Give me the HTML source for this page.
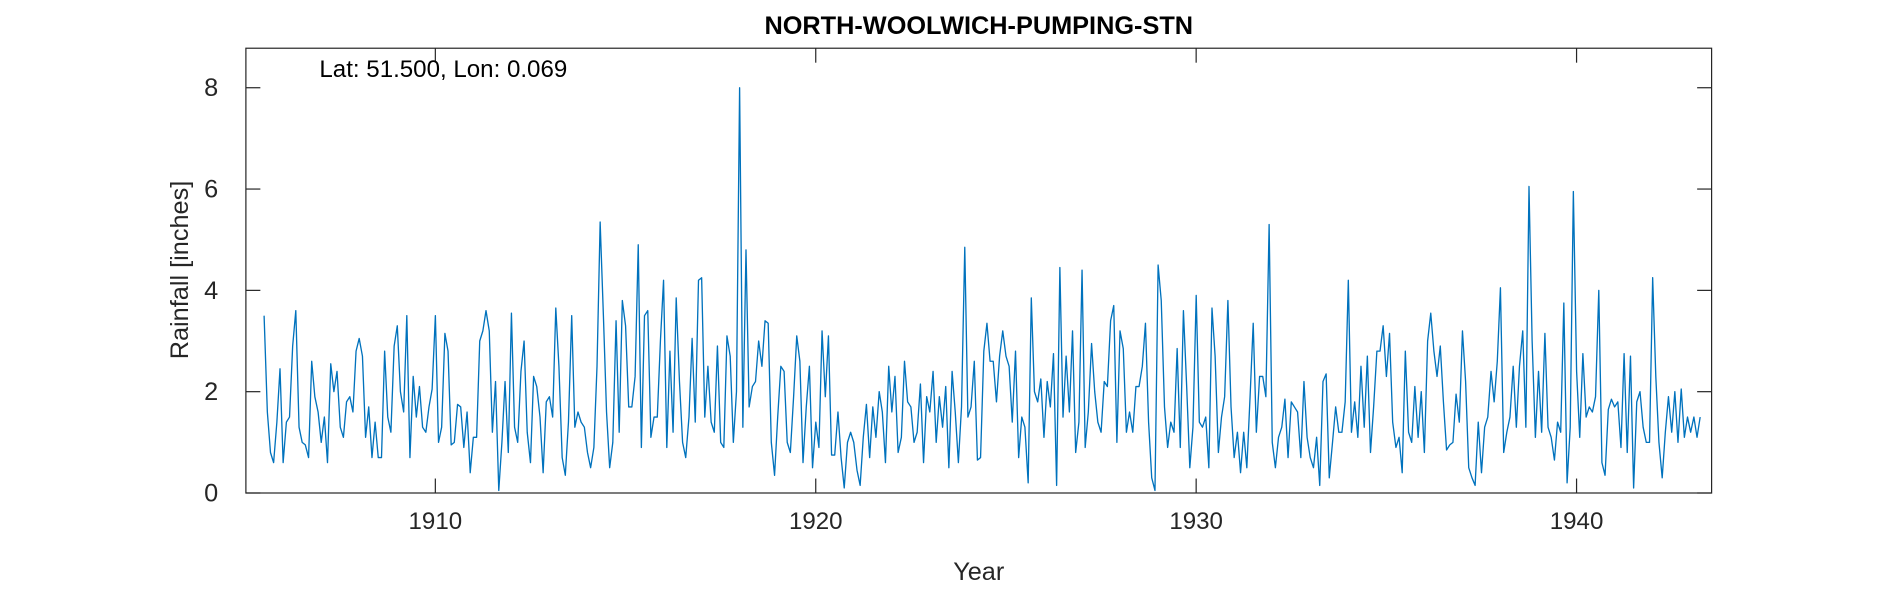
<!DOCTYPE html>
<html><head><meta charset="utf-8">
<style>
html,body{margin:0;padding:0;background:#fff;overflow:hidden;}
svg{display:block;font-family:"Liberation Sans",sans-serif;}
</style></head>
<body>
<svg id="chart" width="1890" height="591" viewBox="0 0 1568 490.3" xmlns="http://www.w3.org/2000/svg">
<rect width="1568" height="491" fill="#fff"/>
<text x="812" y="28" text-anchor="middle" font-size="21" font-weight="bold" fill="#000">NORTH-WOOLWICH-PUMPING-STN</text>
<g id="plot"></g>
<text x="265" y="64" font-size="20" fill="#000">Lat: 51.500, Lon: 0.069</text>
<text x="812" y="481" text-anchor="middle" font-size="21" fill="#262626">Year</text>
<text transform="translate(156,224) rotate(-90)" text-anchor="middle" font-size="21" fill="#262626">Rainfall [inches]</text>
</svg>
<script>
const startYear = 1905.5;
const rainfall = [
3.5,1.6,0.8,0.6,1.4,2.45,
0.6,1.4,1.5,2.9,3.6,1.3,1.0,0.95,0.7,2.6,1.9,1.6,
1.0,1.5,0.6,2.55,2.0,2.4,1.3,1.1,1.8,1.9,1.6,2.8,
3.05,2.7,1.1,1.7,0.7,1.4,0.7,0.7,2.8,1.5,1.2,2.9,
3.3,2.0,1.6,3.5,0.7,2.3,1.5,2.1,1.3,1.2,1.7,2.05,
3.5,1.0,1.3,3.15,2.8,0.95,1.0,1.75,1.7,0.9,1.6,0.4,
1.1,1.1,3.0,3.2,3.6,3.2,1.2,2.2,0.05,1.0,2.2,0.8,
3.55,1.3,1.0,2.4,3.0,1.2,0.6,2.3,2.1,1.5,0.4,1.8,
1.9,1.5,3.65,2.5,0.7,0.35,1.4,3.5,1.3,1.6,1.4,1.3,
0.8,0.5,0.9,2.5,5.35,3.5,1.6,0.5,1.0,3.4,1.2,3.8,
3.3,1.7,1.7,2.3,4.9,0.9,3.5,3.6,1.1,1.5,1.5,3.0,
4.2,0.9,2.8,1.2,3.85,2.2,1.0,0.7,1.5,3.05,1.4,4.2,
4.25,1.5,2.5,1.4,1.2,2.9,1.0,0.9,3.1,2.7,1.0,2.0,
8.0,1.3,4.8,1.7,2.1,2.2,3.0,2.5,3.4,3.35,1.0,0.35,
1.5,2.5,2.4,1.0,0.8,1.9,3.1,2.6,0.6,1.7,2.5,0.5,
1.4,0.9,3.2,1.9,3.1,0.75,0.75,1.6,0.7,0.1,1.0,1.2,
1.0,0.45,0.15,1.1,1.75,0.7,1.7,1.1,2.0,1.6,0.6,2.5,
1.6,2.3,0.8,1.1,2.6,1.8,1.7,1.0,1.2,2.15,0.6,1.9,
1.6,2.4,1.0,1.9,1.3,2.1,0.5,2.4,1.6,0.6,1.7,4.85,
1.5,1.7,2.6,0.65,0.7,2.8,3.35,2.6,2.6,1.8,2.7,3.2,
2.7,2.5,1.4,2.8,0.7,1.5,1.3,0.2,3.85,2.0,1.8,2.25,
1.1,2.2,1.7,2.75,0.15,4.45,1.5,2.7,1.6,3.2,0.8,1.4,
4.4,0.9,1.6,2.95,2.0,1.4,1.2,2.2,2.1,3.4,3.7,1.0,
3.2,2.85,1.2,1.6,1.2,2.1,2.1,2.5,3.35,1.4,0.3,0.05,
4.5,3.8,1.7,0.9,1.4,1.2,2.85,0.9,3.6,2.1,0.5,1.3,
3.9,1.4,1.3,1.5,0.5,3.65,2.7,0.8,1.5,1.9,3.8,1.7,
0.7,1.2,0.4,1.2,0.5,1.9,3.35,1.2,2.3,2.3,1.9,5.3,
1.0,0.5,1.1,1.3,1.85,0.7,1.8,1.7,1.6,0.7,2.2,1.1,
0.7,0.5,1.1,0.15,2.2,2.35,0.3,1.0,1.7,1.2,1.2,1.8,
4.2,1.2,1.8,1.1,2.5,1.3,2.7,0.8,1.7,2.8,2.8,3.3,
2.3,3.15,1.4,0.9,1.1,0.4,2.8,1.2,1.0,2.1,1.1,2.0,
0.8,3.0,3.55,2.8,2.3,2.9,1.8,0.85,0.95,1.0,1.95,1.4,
3.2,2.2,0.5,0.3,0.15,1.4,0.4,1.3,1.5,2.4,1.8,2.6,
4.05,0.8,1.2,1.5,2.5,1.3,2.5,3.2,1.3,6.05,3.0,1.1,
2.4,1.2,3.15,1.3,1.1,0.65,1.4,1.2,3.75,0.2,1.3,5.95,
2.4,1.1,2.75,1.5,1.7,1.6,1.9,4.0,0.6,0.35,1.65,1.85,
1.7,1.8,0.9,2.75,0.8,2.7,0.1,1.8,2.0,1.3,1.0,1.0,
4.25,2.3,1.0,0.3,1.2,1.9,1.2,2.0,1.0,2.05,1.1,1.5,
1.2,1.5,1.1,1.5
];
const xTicks = [1910,1920,1930,1940];
const yTicks = [0,2,4,6,8];

const L=204,R=1420,T=40,B=409;
const xMin=1905.02,xMax=1943.55,yMin=0,yMax=8.78;
const xs = v => L+(v-xMin)/(xMax-xMin)*(R-L);
const ys = v => B-(v-yMin)/(yMax-yMin)*(B-T);
const NS="http://www.w3.org/2000/svg";
const g=document.getElementById('plot');
function mk(tag,attrs){const e=document.createElementNS(NS,tag);for(const k in attrs)e.setAttribute(k,attrs[k]);g.appendChild(e);return e;}

const box=mk('rect',{x:L,y:T,width:R-L,height:B-T,fill:'none',stroke:'#262626','stroke-width':1});



xTicks.forEach(t=>{
  const x=xs(t);
  const tb=mk('line',{x1:x,x2:x,y1:B,y2:B-12,stroke:'#262626'});
  
  
  const tt=mk('line',{x1:x,x2:x,y1:T,y2:T+12,stroke:'#262626'});
  
  
  const lb=mk('text',{x:x,y:B+30,'text-anchor':'middle','font-size':20,fill:'#262626'});
  lb.textContent=t;
  
  
});
yTicks.forEach(t=>{
  const y=ys(t);
  const tl=mk('line',{x1:L,x2:L+12,y1:y,y2:y,stroke:'#262626'});
  
  
  const tr=mk('line',{x1:R,x2:R-12,y1:y,y2:y,stroke:'#262626'});
  
  
  const lb=mk('text',{x:L-23,y:y+7,'text-anchor':'end','font-size':21,fill:'#262626'});
  lb.textContent=t;
  
  
});

const pts=rainfall.map((v,i)=>xs(startYear+i/12).toFixed(1)+','+ys(v).toFixed(1)).join(' ');
const line=mk('polyline',{points:pts,fill:'none',stroke:'#0072BD','stroke-width':1.1,'stroke-linejoin':'round'});


</script>
</body></html>
